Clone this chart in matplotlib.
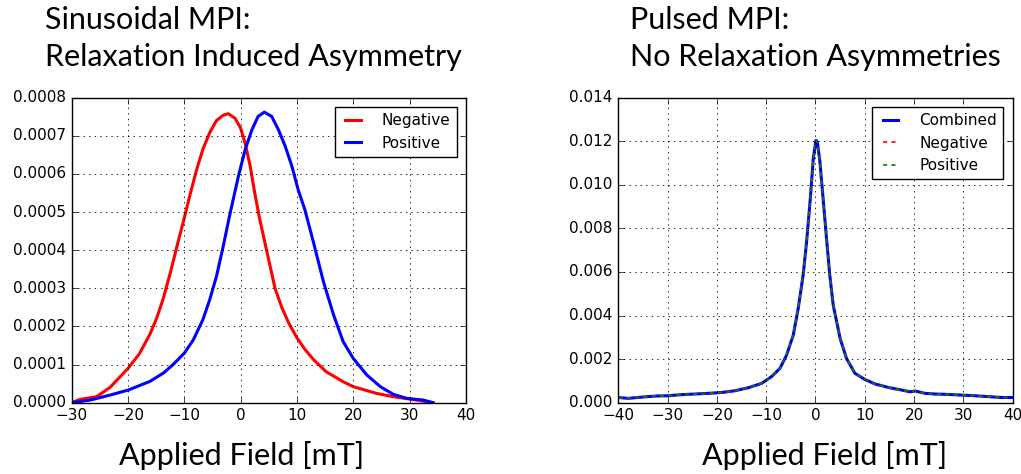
import matplotlib
matplotlib.use("Agg")
import matplotlib.pyplot as plt

plt.style.use('classic')
plt.rcParams['figure.facecolor'] = 'white'
plt.rcParams['savefig.facecolor'] = 'white'

# left panel: sinusoidal MPI, asymmetric point spread functions
sin_neg_x = [-30, -28.5, -25.6, -23.2, -20, -18, -16.1, -14.9, -13.7, -12.5, -11.4, -10, -9,
             -7.8, -6.7, -5.5, -4.3, -3.1, -2.2, -1, 0, 0.8, 1.7, 2.5, 3.4, 4.3, 5.2, 6.1, 7.3,
             8.5, 10, 11.4, 13, 15.2, 18.2, 20, 24.1, 27.1, 30, 33, 34]
sin_neg_y = [0.0, 0.0000087, 0.0000157, 0.00004, 0.00009, 0.000128, 0.00018, 0.000222,
             0.000275, 0.00034, 0.000405, 0.000485, 0.000545, 0.000612, 0.000665, 0.000708,
             0.00074, 0.000754, 0.000758, 0.000746, 0.00072, 0.00068, 0.00062, 0.00055,
             0.00048, 0.00042, 0.00036, 0.0003, 0.00025, 0.00021, 0.00017, 0.00014, 0.000112,
             0.000081, 0.000055, 0.000042, 0.0000245, 0.0000157, 0.0000096, 0.000003, 0.0]

sin_pos_x = [-30, -26.7, -23.2, -20, -16.1, -13.7, -12, -10, -8.4, -6.7, -5.5, -4.3, -3.1, -1.9,
             -0.4, 0.8, 2.0, 3.1, 4.2, 5.5, 6.7, 7.9, 9.1, 10.2, 11.4, 12.9, 14.7, 16.5, 18.2, 20,
             22.4, 24.8, 27.1, 29.5, 32.4, 34.2]
sin_pos_y = [0.0, 0.000007, 0.00002, 0.000033, 0.000056, 0.000078, 0.0001, 0.00013, 0.000165,
             0.000218, 0.00027, 0.000331, 0.00041, 0.000495, 0.000594, 0.000664, 0.000716,
             0.000751, 0.000762, 0.000751, 0.000716, 0.000673, 0.00062, 0.000559, 0.000506,
             0.000422, 0.000317, 0.00023, 0.00016, 0.000116, 0.0000726, 0.000042, 0.0000219,
             0.0000114, 0.000007, 0.0]

# right panel: pulsed MPI, all three curves overlap
pul_x = [-40, -38, -36, -34, -31.9, -29.9, -27.2, -24.4, -21.7, -19, -16.3, -13.6, -10.9, -8.9,
         -7.2, -5.85, -4.5, -3.5, -2.5, -1.8, -1.1, -0.44, 0.1, 0.37, 0.9, 1.6, 2.3, 2.9, 3.6,
         5.0, 6.3, 8.0, 10, 12.1, 14.8, 17.5, 19.2, 20.2, 22.2, 24.2, 26.9, 29.6, 32.3, 35.0,
         37.8, 39.8]
pul_comb = [0.00024, 0.0002, 0.00024, 0.00028, 0.00031, 0.00032, 0.00037, 0.0004, 0.00043,
            0.00047, 0.00055, 0.00069, 0.00089, 0.0012, 0.00158, 0.00219, 0.00311, 0.00433,
            0.00586, 0.00739, 0.00923, 0.01121, 0.01205, 0.01198, 0.01106, 0.00923, 0.00739,
            0.00586, 0.00448, 0.00295, 0.00203, 0.00135, 0.00107, 0.00086, 0.0007, 0.00058,
            0.0005, 0.00054, 0.00043, 0.0004, 0.00038, 0.00035, 0.00032, 0.00028, 0.00024,
            0.00024]
pul_neg = pul_comb
pul_pos = pul_comb

fig = plt.figure(figsize=(10.21, 4.74), dpi=100)
ax1 = fig.add_axes([0.0702, 0.1504, 0.3862, 0.6435])
ax2 = fig.add_axes([0.6056, 0.1504, 0.3862, 0.6435])

ax1.plot(sin_neg_x, sin_neg_y, color='red', lw=2.2, label='Negative')
ax1.plot(sin_pos_x, sin_pos_y, color='blue', lw=2.2, label='Positive')
ax1.set_xlim(-30, 40)
ax1.set_ylim(0, 0.0008)
ax1.set_yticks([0, 0.0001, 0.0002, 0.0003, 0.0004, 0.0005, 0.0006, 0.0007, 0.0008])
ax1.set_yticklabels(['0.0000', '0.0001', '0.0002', '0.0003', '0.0004', '0.0005', '0.0006',
                     '0.0007', '0.0008'])

ax2.plot(pul_x, pul_comb, color='blue', lw=2.2, label='Combined')
ax2.plot(pul_x, pul_neg, color='red', lw=1.2, ls=(0, (3, 3)), label='Negative')
ax2.plot(pul_x, pul_pos, color='green', lw=1.2, ls=(0, (3, 3)), label='Positive')
ax2.set_xlim(-40, 40)
ax2.set_ylim(0, 0.014)
ax2.set_yticks([0, 0.002, 0.004, 0.006, 0.008, 0.010, 0.012, 0.014])
ax2.set_yticklabels(['0.000', '0.002', '0.004', '0.006', '0.008', '0.010', '0.012', '0.014'])

for ax in (ax1, ax2):
    ax.grid(True, ls=':', color='black', lw=0.6)
    ax.tick_params(labelsize=11)
    ax.legend(loc='upper right', fontsize=11, handlelength=1.6, handletextpad=1.1,
              borderaxespad=0.6)

title_font = 'Lato'
fig.text(45 / 1021, 1 - 20 / 474, 'Sinusoidal MPI:', fontsize=22, family=title_font, va='center')
fig.text(45 / 1021, 1 - 57 / 474, 'Relaxation Induced Asymmetry', fontsize=22, family=title_font,
         va='center')
fig.text(630 / 1021, 1 - 20 / 474, 'Pulsed MPI:', fontsize=22, family=title_font, va='center')
fig.text(630 / 1021, 1 - 57 / 474, 'No Relaxation Asymmetries', fontsize=22, family=title_font,
         va='center')
fig.text(242 / 1021, 1 - 455 / 474, 'Applied Field [mT]', fontsize=22, family=title_font,
         ha='center', va='center')
fig.text(825 / 1021, 1 - 455 / 474, 'Applied Field [mT]', fontsize=22, family=title_font,
         ha='center', va='center')

fig.savefig('out.png', dpi=100)
